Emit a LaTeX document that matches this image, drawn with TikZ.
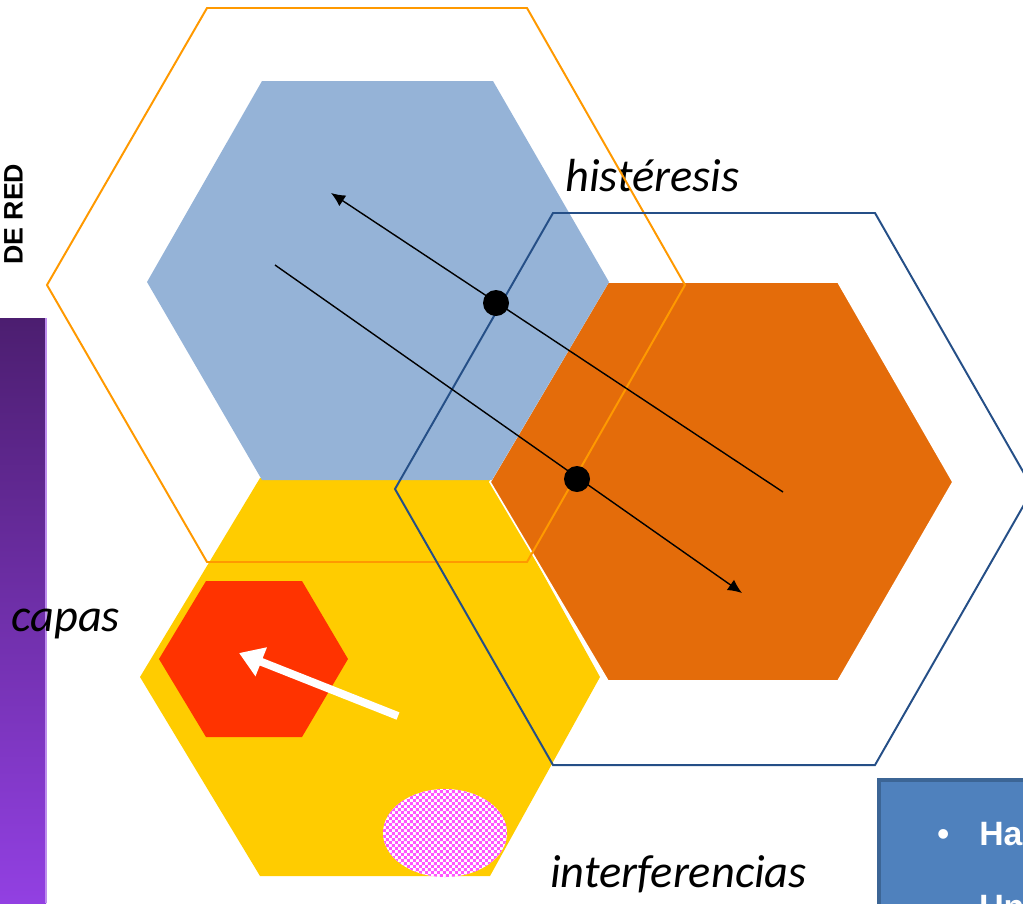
\documentclass[tikz,border=0pt]{standalone}
\usepackage{fontspec}
\setmainfont{Carlito}
\newfontfamily\arialfont{Liberation Sans}
\usetikzlibrary{arrows.meta,patterns}
\definecolor{azulclaro}{HTML}{95B3D7}
\definecolor{naranja}{HTML}{E46C0A}
\definecolor{amarillo}{HTML}{FFCC00}
\definecolor{rojo}{HTML}{FF3300}
\definecolor{bordenaranja}{HTML}{FF9900}
\definecolor{bordeazul}{HTML}{254F87}
\definecolor{rosa}{HTML}{FF55FF}
\definecolor{moradoA}{HTML}{4C1E70}
\definecolor{moradoB}{HTML}{9240E2}
\definecolor{cajaazul}{HTML}{4F81BD}
\definecolor{cajaborde}{HTML}{3C6595}
% cuadricula fina
\pgfdeclarepatternformonly{cuadrofino}{\pgfpointorigin}{\pgfpoint{4.2pt}{4.2pt}}{\pgfpoint{4.2pt}{4.2pt}}
{
  \pgfpathrectangle{\pgfpointorigin}{\pgfpoint{2.1pt}{2.1pt}}
  \pgfpathrectangle{\pgfpoint{2.1pt}{2.1pt}}{\pgfpoint{2.1pt}{2.1pt}}
  \pgfusepath{fill}
}
\begin{document}
\begin{tikzpicture}[x=0.025cm,y=-0.025cm,
  contorno/.style={line width=1.4pt},
  flecha/.style={line width=1pt,-{Latex[length=10pt,width=9pt]}},
  punto/.style={circle,fill=black,inner sep=0pt,minimum size=18.5pt},
  etiqueta/.style={inner sep=0pt,anchor=base west,font=\fontsize{33}{40}\selectfont\itshape},
  caja/.style={text=white,inner sep=0pt,anchor=base west,font=\arialfont\bfseries\fontsize{24}{29}\selectfont}]
  \useasboundingbox (0,0) rectangle (1023,903);
  \clip (0,0) rectangle (1023,903);
  % barra lateral
  \shade[top color=moradoA,bottom color=moradoB] (0,318) rectangle (46,903);
  \draw[moradoB!60!white,line width=0.8pt] (46,318) -- (46,903);
  \node[rotate=90,inner sep=0pt,anchor=base west,font=\arialfont\bfseries\fontsize{19}{23}\selectfont] (red) at (22.5,265) {DE RED};
  % celdas rellenas
  \fill[amarillo] (260,478) -- (490,478) -- (600,677) -- (490,876) -- (260,876) -- (140,677) -- cycle;
  \filldraw[fill=naranja,draw=white,line width=1.2pt] (608,282) -- (838,282) -- (953,482) -- (838,681) -- (608,681) -- (490,482) -- cycle;
  \fill[azulclaro] (262,81) -- (493,81) -- (609,282) -- (492,480) -- (262,480) -- (147,282) -- cycle;
  \fill[rojo] (206,581) -- (302,581) -- (348,659) -- (302,737) -- (206,737) -- (159,659) -- cycle;
  % flecha blanca
  \coordinate (w1) at (398,716);
  \coordinate (w2) at (239,653);
  \draw[white,line width=5.6pt,-{Triangle[length=17pt,width=21pt]}] (w1) -- (w2);
  % interferencia
  \fill[white] (445,833) ellipse [x radius=62,y radius=44];
  \fill[pattern=cuadrofino,pattern color=rosa] (445,833) ellipse [x radius=62,y radius=44];
  % textos
  \node[etiqueta] (hist) at (565,191) {histéresis};
  \node[etiqueta] (capas) at (11,631) {capas};
  \node[etiqueta] (interf) at (550,887) {interferencias};
  % contornos
  \draw[contorno,bordenaranja] (207,8) -- (527,8) -- (685,285) -- (527,562) -- (207,562) -- (47,285) -- cycle;
  \draw[contorno,bordeazul] (553,213) -- (875,213) -- (1033,489) -- (875,765) -- (553,765) -- (395,489) -- cycle;
  % trayectorias
  \coordinate (a1) at (783,492);
  \coordinate (a2) at (331,193);
  \coordinate (b1) at (275,265);
  \coordinate (b2) at (742,593);
  \draw[flecha] (a1) -- (a2);
  \draw[flecha] (b1) -- (b2);
  \node[punto] (p1) at (496,303) {};
  \node[punto] (p2) at (577,479) {};
  % caja
  \filldraw[fill=cajaazul,draw=cajaborde,line width=3.5pt] (879,780) rectangle (1100,1000);
  \node[caja] (bul) at (937,845) {•};
  \node[caja] (ha) at (979,845) {Ha};
  \node[caja] (un) at (979,918) {Un};
\end{tikzpicture}
\end{document}
